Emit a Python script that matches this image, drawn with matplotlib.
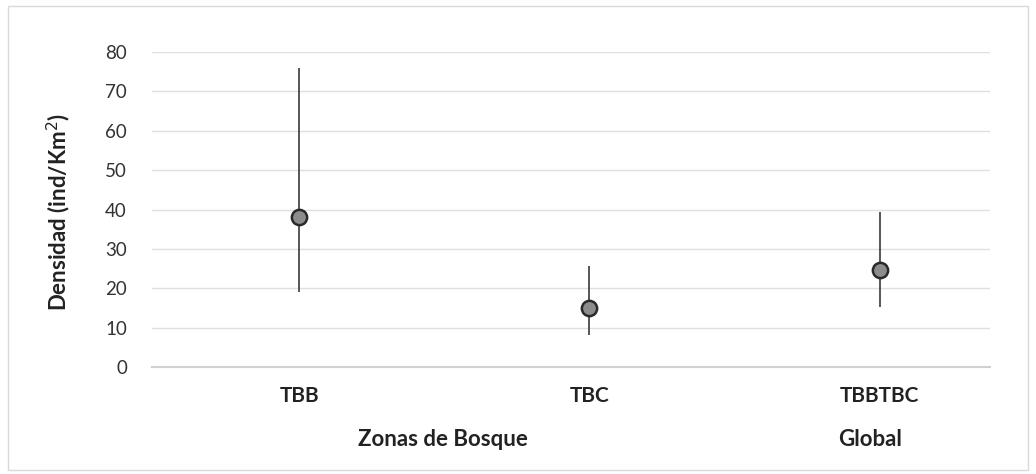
import matplotlib
matplotlib.use("Agg")
import matplotlib.pyplot as plt
import numpy as np

categories = ["TBB", "TBC", "TBBTBC"]
density = [38.2, 15.0, 24.6]
lower = [19.0, 8.1, 15.2]
upper = [76.0, 25.6, 39.3]
yticks = [0, 10, 20, 30, 40, 50, 60, 70, 80]

plt.rcParams['font.family'] = ['Lato', 'DejaVu Sans']

fig = plt.figure(figsize=(10.36, 4.74), dpi=100)
ax = fig.add_axes([0.1467, 0.2257, 0.809, 0.6646])

x = np.arange(len(categories))
d = np.array(density)
yerr = np.array([d - np.array(lower), np.array(upper) - d])
ax.errorbar(x, d, yerr=yerr, fmt='o', color='#3a3a3a', ecolor='#3a3a3a',
            elinewidth=1.2, capsize=0, markersize=11,
            markerfacecolor='#8c8c8c', markeredgecolor='#2a2a2a',
            markeredgewidth=1.8, zorder=3)

ax.set_xlim(-0.507, 2.38)
ax.set_ylim(0, 80)
ax.set_yticks(yticks)
ax.set_xticks(x)
ax.set_xticklabels(categories, fontweight='bold', fontsize=15)
ax.tick_params(axis='y', labelsize=13.5, length=0, pad=18, colors='#333333')
ax.tick_params(axis='x', length=0, pad=14, colors='#222222')
ax.grid(axis='y', color='#e0e0e0', linewidth=1)
ax.set_axisbelow(True)
for s in ['top', 'right', 'left']:
    ax.spines[s].set_visible(False)
ax.spines['bottom'].set_color('#d0d0d0')
ax.spines['bottom'].set_linewidth(1.5)

fig.text(59/1036, 1 - 212/474, "Densidad (ind/Km$^{2}$)", rotation=90,
         ha='center', va='center', fontweight='bold', fontsize=16, color='#222222')

fig.text(443/1036, 1 - 440/474, "Zonas de Bosque", ha='center', va='center',
         fontweight='bold', fontsize=16, color='#222222')
fig.text(870/1036, 1 - 439/474, "Global", ha='center', va='center',
         fontweight='bold', fontsize=16, color='#222222')

border = plt.Rectangle((8/1036, 4/474), 1020/1036, 464/474, transform=fig.transFigure,
                       fill=False, edgecolor='#d9d9d9', linewidth=1)
fig.patches.append(border)

fig.savefig("out.png", dpi=100)
